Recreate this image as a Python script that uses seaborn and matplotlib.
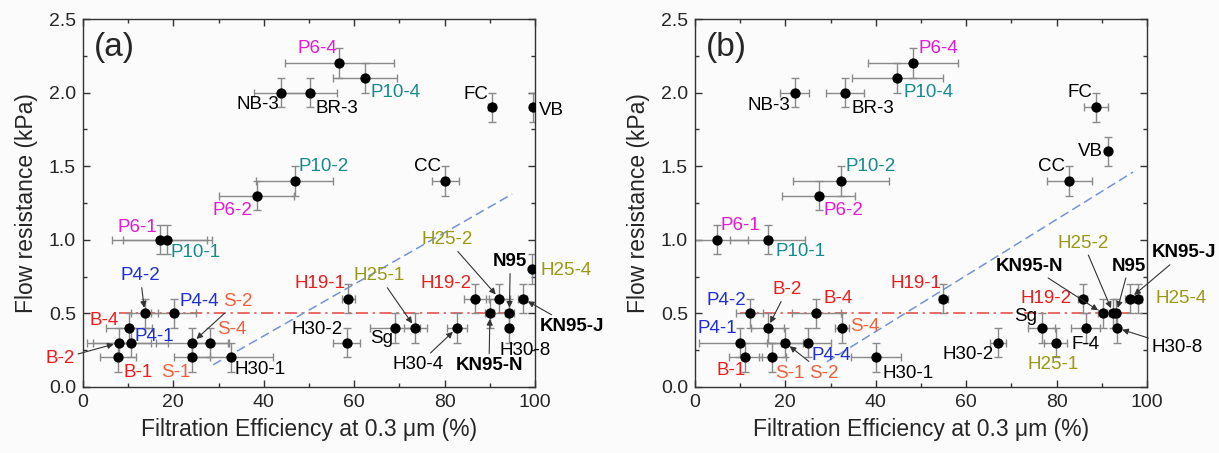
import numpy as np
import matplotlib
matplotlib.use('Agg')
import matplotlib.pyplot as plt
from matplotlib.ticker import MultipleLocator
import seaborn as sns

# ---- data ----
# panel (a)
names_a = ['P6-4', 'P10-4', 'NB-3', 'BR-3', 'FC', 'VB', 'CC', 'P10-2', 'P6-2', 'P6-1', 'P10-1',
           'P4-2', 'P4-4', 'B-4', 'P4-1', 'B-2', 'S-2', 'S-4', 'B-1', 'S-1', 'H30-1',
           'H19-1', 'H30-2', 'Sg', 'H25-1', 'H30-4', 'H19-2', 'H25-2', 'KN95-N', 'N95',
           'H30-8', 'KN95-J', 'H25-4']
eff_a = [56.7, 62.4, 43.9, 50.2, 90.4, 99.6, 80.1, 46.8, 38.4, 17.0, 18.7,
         13.7, 20.1, 10.2, 10.6, 8.0, 24.2, 28.1, 7.8, 24.2, 32.7,
         58.7, 58.3, 69.0, 73.5, 82.7, 86.7, 92.1, 90.0, 94.3,
         94.3, 97.3, 99.3]
eff_err_a = [12.0, 7.0, 6.0, 6.0, 0.8, 0.0, 3.0, 8.6, 8.2, 10.5, 9.8,
             3.0, 5.0, 5.0, 8.3, 7.0, 8.0, 4.0, 4.0, 4.0, 9.4,
             1.5, 3.0, 5.5, 2.5, 2.2, 2.5, 2.4, 1.0, 1.0,
             0.5, 1.0, 0.3]
res_a = [2.2, 2.1, 2.0, 2.0, 1.9, 1.9, 1.4, 1.4, 1.3, 1.0, 1.0,
         0.5, 0.5, 0.4, 0.3, 0.3, 0.3, 0.3, 0.2, 0.2, 0.2,
         0.6, 0.3, 0.4, 0.4, 0.4, 0.6, 0.6, 0.5, 0.5,
         0.4, 0.6, 0.8]
res_err_a = [0.1] * len(names_a)

# panel (b)
names_b = ['P6-4', 'P10-4', 'NB-3', 'BR-3', 'FC', 'VB', 'CC', 'P10-2', 'P6-2', 'P6-1', 'P10-1',
           'P4-2', 'B-4', 'B-2', 'S-4', 'P4-1', 'S-2', 'P4-4', 'B-1', 'S-1', 'H30-1',
           'H19-1', 'H30-2', 'Sg', 'F-4', 'H25-1', 'H19-2', 'KN95-N', 'H25-2', 'N95',
           'H30-8', 'KN95-J', 'H25-4']
eff_b = [48.3, 44.8, 22.1, 33.3, 88.7, 91.3, 82.8, 32.4, 27.4, 4.8, 16.1,
         12.1, 26.9, 16.1, 32.6, 10.0, 20.0, 25.0, 11.2, 17.1, 40.0,
         54.9, 67.1, 76.7, 86.4, 79.8, 85.8, 90.2, 92.5, 93.2,
         93.3, 96.2, 97.9]
eff_err_b = [10.0, 10.0, 3.2, 4.2, 2.7, 0.0, 5.0, 10.6, 8.1, 7.0, 8.3,
             3.0, 5.4, 3.7, 1.5, 9.0, 4.0, 5.0, 3.7, 3.0, 5.5,
             1.0, 1.8, 3.0, 3.3, 2.5, 1.0, 1.0, 1.0, 0.5,
             0.5, 1.0, 1.0]
res_b = [2.2, 2.1, 2.0, 2.0, 1.9, 1.6, 1.4, 1.4, 1.3, 1.0, 1.0,
         0.5, 0.5, 0.4, 0.4, 0.3, 0.3, 0.3, 0.2, 0.2, 0.2,
         0.6, 0.3, 0.4, 0.4, 0.3, 0.6, 0.5, 0.5, 0.5,
         0.4, 0.6, 0.6]
res_err_b = [0.1] * len(names_b)

# reference lines (x pair, y pair)
red_x_a, red_y_a = [8.0, 95.0], [0.5, 0.5]
blue_x_a, blue_y_a = [28.8, 94.9], [0.15, 1.31]
red_x_b, red_y_b = [10.0, 97.5], [0.5, 0.5]
blue_x_b, blue_y_b = [29.2, 96.9], [0.17, 1.46]

# label placement: name -> (text x, text y, ha, arrow?)
lab_a = {
    'P6-4': (56.2, 2.30, 'right', 0), 'P10-4': (63.5, 2.0, 'left', 0),
    'NB-3': (43.4, 1.92, 'right', 0), 'BR-3': (51.5, 1.89, 'left', 0),
    'FC': (89.6, 1.99, 'right', 0), 'VB': (100.8, 1.88, 'left', 0),
    'CC': (79.2, 1.50, 'right', 0), 'P10-2': (47.6, 1.50, 'left', 0),
    'P6-2': (37.4, 1.20, 'right', 0), 'P6-1': (16.4, 1.08, 'right', 0),
    'P10-1': (19.4, 0.91, 'left', 0), 'P4-2': (12.7, 0.754, 'center', 1),
    'P4-4': (21.3, 0.58, 'left', 0), 'S-2': (30.9, 0.58, 'left', 1),
    'B-4': (1.5, 0.45, 'left', 0), 'P4-1': (11.5, 0.34, 'left', 0),
    'S-4': (29.6, 0.39, 'left', 0), 'B-2': (-1.8, 0.19, 'right', 1),
    'B-1': (8.9, 0.10, 'left', 0), 'S-1': (17.4, 0.10, 'left', 0),
    'H30-1': (33.6, 0.115, 'left', 0), 'H19-1': (58.0, 0.70, 'right', 0),
    'H25-1': (65.5, 0.754, 'center', 1), 'H30-2': (57.4, 0.39, 'right', 0),
    'Sg': (68.5, 0.33, 'right', 0), 'H30-4': (74.1, 0.15, 'center', 1),
    'H19-2': (74.6, 0.70, 'left', 0), 'H25-2': (80.6, 1.0, 'center', 1),
    'N95': (94.5, 0.85, 'center', 1), 'KN95-N': (89.8, 0.145, 'center', 1),
    'H30-8': (92.2, 0.245, 'left', 0), 'H25-4': (101.1, 0.79, 'left', 0),
    'KN95-J': (101.1, 0.41, 'left', 1),
}
lab_b = {
    'P6-4': (49.4, 2.30, 'left', 0), 'P10-4': (46.1, 2.0, 'left', 0),
    'NB-3': (21.2, 1.91, 'right', 0), 'BR-3': (34.7, 1.89, 'left', 0),
    'FC': (87.8, 2.0, 'right', 0), 'VB': (90.3, 1.60, 'right', 0),
    'CC': (81.9, 1.50, 'right', 0), 'P10-2': (33.4, 1.50, 'left', 0),
    'P6-2': (28.4, 1.20, 'left', 0), 'P6-1': (5.7, 1.10, 'left', 0),
    'P10-1': (17.9, 0.92, 'left', 0), 'P4-2': (2.6, 0.59, 'left', 0),
    'B-2': (20.4, 0.66, 'center', 1), 'B-4': (28.4, 0.60, 'left', 0),
    'S-4': (34.4, 0.41, 'left', 0), 'P4-1': (0.5, 0.40, 'left', 0),
    'P4-4': (25.8, 0.21, 'left', 0), 'B-1': (4.8, 0.11, 'left', 0),
    'S-1': (17.7, 0.093, 'left', 0), 'S-2': (28.5, 0.093, 'center', 1),
    'H30-1': (41.4, 0.093, 'left', 0), 'H19-1': (54.6, 0.70, 'right', 0),
    'H30-2': (66.2, 0.22, 'right', 0), 'Sg': (75.7, 0.48, 'right', 0),
    'H19-2': (83.3, 0.60, 'right', 0), 'F-4': (83.3, 0.29, 'left', 0),
    'H25-1': (79.2, 0.15, 'center', 0), 'H25-2': (85.9, 0.976, 'center', 1),
    'KN95-N': (74.1, 0.82, 'center', 1), 'N95': (96.0, 0.82, 'center', 1),
    'KN95-J': (101.0, 0.91, 'left', 1), 'H25-4': (101.8, 0.60, 'left', 0),
    'H30-8': (101.0, 0.27, 'left', 1),
}


def label_color(name):
    if name.startswith('P6'):
        return '#e41ad4'
    if name.startswith('P10'):
        return '#168a8c'
    if name.startswith('P4'):
        return '#1f2fd2'
    if name.startswith('B-') or name.startswith('H19'):
        return '#ee1c1c'
    if name.startswith('S-'):
        return '#f0603c'
    if name.startswith('H25'):
        return '#9a9a12'
    return 'black'


def draw_panel(ax, names, eff, eff_err, res, res_err, labs, redx, redy, bluex, bluey, tag):
    ax.plot(redx, redy, color='#e4443a', lw=1.1, ls=(0, (8, 3, 1.5, 3)), zorder=1)
    ax.plot(bluex, bluey, color='#7494d2', lw=1.1, ls=(0, (6, 3)), zorder=1)
    ax.errorbar(eff, res, xerr=eff_err, yerr=res_err, fmt='none', ecolor='#8a8a8a',
                elinewidth=1.0, capsize=3, capthick=1.0, zorder=2)
    sns.scatterplot(x=eff, y=res, ax=ax, color='black', s=55, edgecolor='black',
                    linewidth=0, zorder=3, legend=False)
    for n, x, y in zip(names, eff, res):
        tx, ty, ha, arrow = labs[n]
        bold = n in ('N95', 'KN95-N', 'KN95-J')
        kw = dict(fontsize=13.5, color=label_color(n), ha=ha, va='center',
                  fontweight='bold' if bold else 'normal', annotation_clip=False)
        if arrow:
            ax.annotate(n, xy=(x, y), xytext=(tx, ty),
                        arrowprops=dict(arrowstyle='-|>', color='#333333', lw=0.8,
                                        mutation_scale=9, shrinkA=0, shrinkB=4),
                        **kw)
        else:
            ax.annotate(n, xy=(tx, ty), **kw)
    ax.set_xlim(0, 100)
    ax.set_ylim(0, 2.5)
    ax.xaxis.set_major_locator(MultipleLocator(20))
    ax.xaxis.set_minor_locator(MultipleLocator(10))
    ax.yaxis.set_major_locator(MultipleLocator(0.5))
    ax.yaxis.set_minor_locator(MultipleLocator(0.25))
    ax.yaxis.set_major_formatter(plt.FormatStrFormatter('%.1f'))
    ax.tick_params(which='both', direction='in', top=True, right=True, labelsize=14,
                   color='#333333', pad=5)
    ax.tick_params(which='major', length=5, width=1)
    ax.tick_params(which='minor', length=3, width=1)
    for sp in ax.spines.values():
        sp.set_color('#333333')
        sp.set_linewidth(1.0)
    ax.set_xlabel('Filtration Efficiency at 0.3 μm (%)', fontsize=16.5, labelpad=5)
    ax.set_ylabel('Flow resistance (kPa)', fontsize=16.5, labelpad=8)
    ax.text(0.025, 0.965, tag, transform=ax.transAxes, fontsize=24, va='top', ha='left')
    ax.set_facecolor('#fbfbfb')


sns.set_style('ticks')
plt.rcParams['font.family'] = ['Liberation Sans', 'DejaVu Sans']

fig = plt.figure(figsize=(12.19, 4.53), dpi=100)
fig.patch.set_facecolor('#fbfbfb')
ax_a = fig.add_axes([0.068, 0.146, 0.371, 0.812])
ax_b = fig.add_axes([0.570, 0.146, 0.371, 0.812])

draw_panel(ax_a, names_a, eff_a, eff_err_a, res_a, res_err_a, lab_a,
           red_x_a, red_y_a, blue_x_a, blue_y_a, '(a)')
draw_panel(ax_b, names_b, eff_b, eff_err_b, res_b, res_err_b, lab_b,
           red_x_b, red_y_b, blue_x_b, blue_y_b, '(b)')

fig.savefig('out.png', dpi=100, facecolor=fig.get_facecolor())
